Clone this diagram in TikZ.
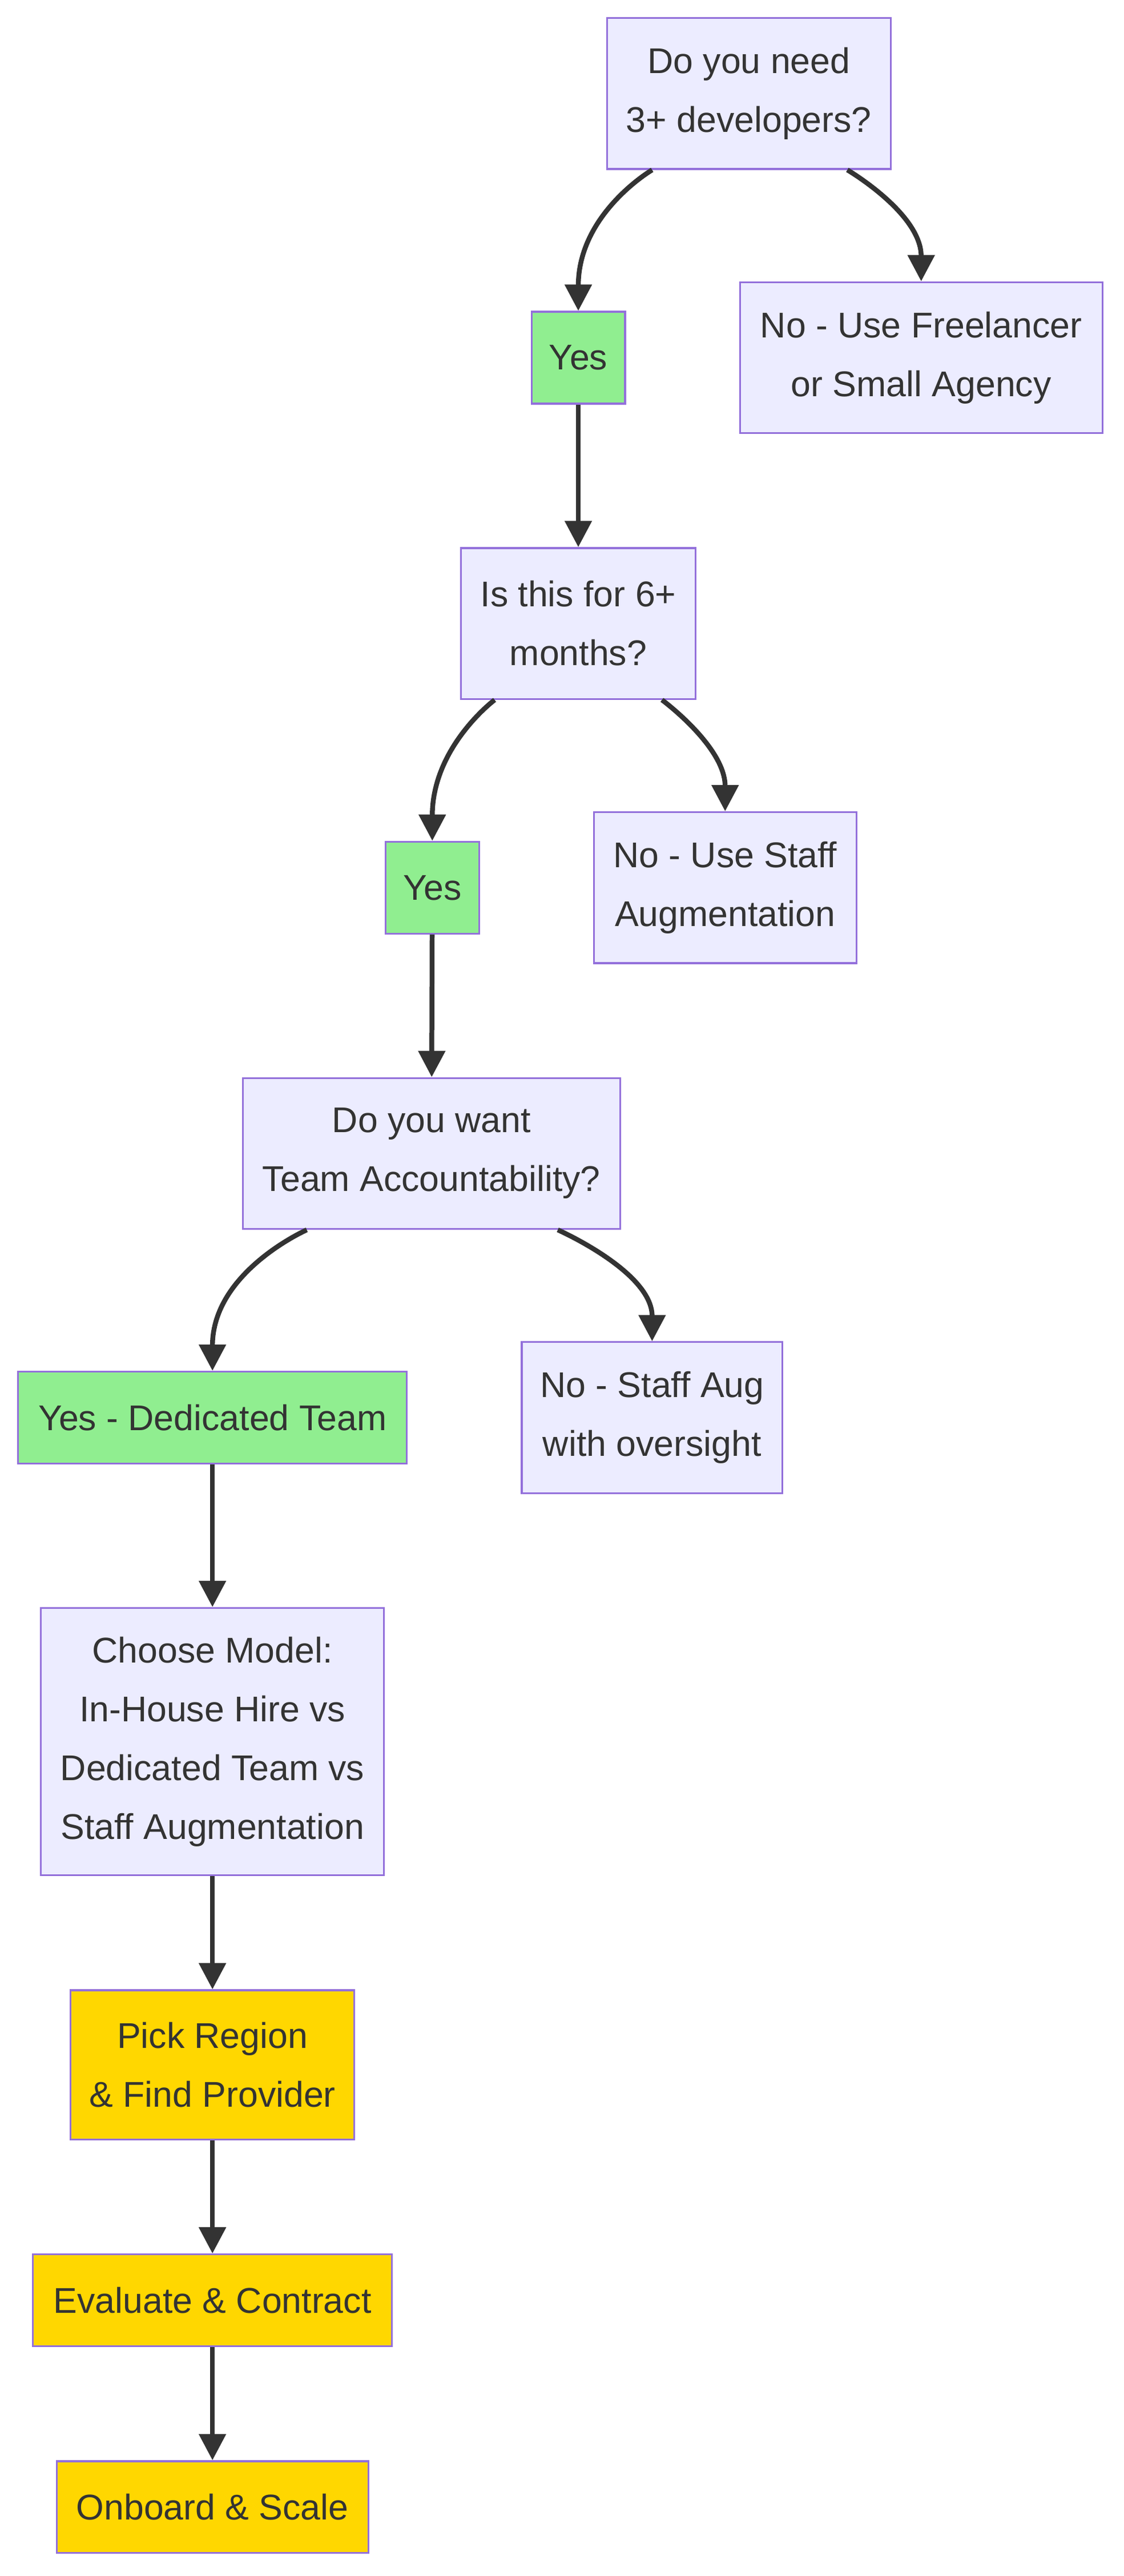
\documentclass[tikz,border=0pt]{standalone}
\usepackage{fontspec}
\setmainfont{Liberation Sans}
\usetikzlibrary{positioning}
\usetikzlibrary{arrows.meta}
\definecolor{boxfill}{HTML}{ECECFF}
\definecolor{boxline}{HTML}{9370DB}
\definecolor{yesfill}{HTML}{90EE90}
\definecolor{stepfill}{HTML}{FFD700}
\definecolor{edge}{HTML}{333333}
\begin{document}
\begin{tikzpicture}[x=0.05cm,y=-0.05cm,
  box/.style={draw=boxline,fill=boxfill,line width=1.6pt,align=center,
    inner sep=0pt,text=edge,font=\fontsize{31}{51}\selectfont},
  yes/.style={box,fill=yesfill},
  stage/.style={box,fill=stepfill},
  flow/.style={draw=edge,line width=4.2pt,-{Triangle[length=0.8cm,width=0.8cm]}}]
\useasboundingbox (0,0) rectangle (685,1570);

\node (need) at (456.5,57) [box,minimum width=8.65cm,minimum height=4.6cm]
  {Do you need\\3+ developers?};
\node (yes1) at (352.5,218) [yes,minimum width=2.85cm,minimum height=2.8cm] {Yes};
\node (free) at (561.5,218) [box,minimum width=11.05cm,minimum height=4.6cm]
  {No - Use Freelancer\\or Small Agency};
\node (six) at (352.5,380) [box,minimum width=7.15cm,minimum height=4.6cm]
  {Is this for 6+\\months?};
\node (yes2) at (263.5,541) [yes,minimum width=2.85cm,minimum height=2.8cm] {Yes};
\node (aug) at (442,541) [box,minimum width=8cm,minimum height=4.6cm]
  {No - Use Staff\\Augmentation};
\node (team) at (263,703) [box,minimum width=11.5cm,minimum height=4.6cm]
  {Do you want\\Team Accountability?};
\node (ded) at (129.5,864) [yes,minimum width=11.85cm,minimum height=2.8cm]
  {Yes - Dedicated Team};
\node (over) at (397.5,864) [box,minimum width=7.95cm,minimum height=4.6cm]
  {No - Staff Aug\\with oversight};
\node (model) at (129.5,1061.5) [box,minimum width=10.45cm,minimum height=8.15cm]
  {Choose Model:\\In-House Hire vs\\Dedicated Team vs\\Staff Augmentation};
\node (region) at (129.5,1258.5) [stage,minimum width=8.65cm,minimum height=4.55cm]
  {Pick Region\\\& Find Provider};
\node (eval) at (129.5,1402) [stage,minimum width=10.95cm,minimum height=2.8cm]
  {Evaluate \& Contract};
\node (onb) at (129.5,1528) [stage,minimum width=9.5cm,minimum height=2.8cm]
  {Onboard \& Scale};

\draw [flow] ([xshift=-2.95cm]need.south) .. controls +(0,0) and (352.5,130) .. (yes1.north);
\draw [flow] ([xshift=3cm]need.south) .. controls +(0,0) and (561.5,130) .. (free.north);
\draw [flow] (yes1)--(six);
\draw [flow] ([xshift=-2.55cm]six.south) .. controls +(0,0) and (263.5,455) .. (yes2.north);
\draw [flow] ([xshift=2.55cm]six.south) .. controls +(0,0) and (442,455) .. (aug.north);
\draw [flow] (yes2)--(team);
\draw [flow] ([xshift=-3.8cm]team.south) .. controls +(0,0) and (129.5,775) .. (ded.north);
\draw [flow] ([xshift=3.85cm]team.south) .. controls +(0,0) and (397.5,775) .. (over.north);
\draw [flow] (ded)--(model);
\draw [flow] (model)--(region);
\draw [flow] (region)--(eval);
\draw [flow] (eval)--(onb);

\end{tikzpicture}
\end{document}
